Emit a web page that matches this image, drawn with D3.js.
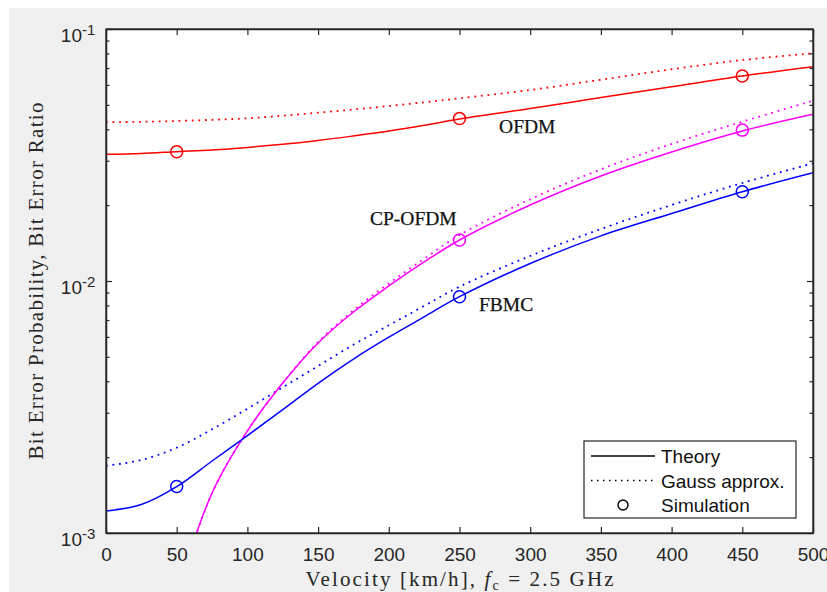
<!DOCTYPE html>
<html>
<head>
<meta charset="utf-8">
<script src="https://cdn.jsdelivr.net/npm/d3@7"></script>
<style>
  html, body { margin: 0; padding: 0; background: #ffffff; }
  svg { display: block; }
</style>
</head>
<body>
<svg id="chart" width="827" height="592"></svg>
<script>
// ---------------- data ----------------
const velocity = [0, 25, 50, 75, 100, 125, 150, 175, 200, 225, 250, 300, 350, 400, 450, 500];

const ofdmTheory   = [0.03184, 0.03208, 0.03261, 0.03312, 0.03389, 0.03489, 0.03612, 0.03765, 0.03937, 0.04148, 0.04394, 0.04834, 0.05346, 0.05902, 0.06509, 0.07087];
const ofdmGauss    = [0.04264, 0.04283, 0.04314, 0.04362, 0.04422, 0.04529, 0.04655, 0.04793, 0.04949, 0.05120, 0.05309, 0.05728, 0.06292, 0.06919, 0.07533, 0.08007];
const cpofdmTheory = [null, null, 0.000573, 0.001441, 0.002541, 0.003935, 0.005675, 0.007534, 0.009555, 0.011898, 0.014547, 0.020022, 0.026103, 0.032492, 0.039370, 0.045857];
const cpofdmGauss  = [null, null, 0.000573, 0.001441, 0.002541, 0.003935, 0.005727, 0.007651, 0.009775, 0.012251, 0.015225, 0.021090, 0.027747, 0.034973, 0.042855, 0.051930];
const fbmcTheory   = [0.001223, 0.001297, 0.001527, 0.001931, 0.002436, 0.003085, 0.003925, 0.004900, 0.005983, 0.007210, 0.008663, 0.011731, 0.015100, 0.018530, 0.022620, 0.026904];
const fbmcGauss    = [0.001849, 0.001949, 0.002181, 0.002579, 0.003113, 0.003784, 0.004600, 0.005589, 0.006671, 0.007958, 0.009493, 0.012571, 0.016082, 0.020022, 0.024481, 0.029311];

const simVelocity = [50, 250, 450];
const ofdmSim   = [0.0326, 0.0441, 0.0651];
const cpofdmSim = [null, 0.01455, 0.0397];
const fbmcSim   = [0.00153, 0.00866, 0.0226];

const schemeNames  = ["OFDM", "CP-OFDM", "FBMC"];
const schemeColors = ["#ff0000", "#ff00ff", "#0000ff"];
const labelAnchor  = [[278, 0.03856], [186.7, 0.01668], [263.8, 0.00762]];

const xTicks = [0, 50, 100, 150, 200, 250, 300, 350, 400, 450, 500];
const yMajorExponents = [-3, -2, -1];
const legendLabels = ["Theory", "Gauss approx.", "Simulation"];

// ---------------- layout ----------------
const svg = d3.select("#chart");
const W = 827, H = 592;
const plot = { left: 106, top: 29, right: 813, bottom: 533 };
const axisColor = "#262626";

svg.append("rect").attr("x", 9).attr("y", 8).attr("width", W - 9).attr("height", H - 8).attr("fill", "#f0f0f0");
svg.append("rect").attr("x", plot.left).attr("y", plot.top)
  .attr("width", plot.right - plot.left).attr("height", plot.bottom - plot.top).attr("fill", "#ffffff");

const x = d3.scaleLinear().domain([0, 500]).range([plot.left, plot.right]);
const y = d3.scaleLog().domain([1e-3, 1e-1]).range([plot.bottom, plot.top]);

svg.append("defs").append("clipPath").attr("id", "clip")
  .append("rect").attr("x", plot.left).attr("y", plot.top)
  .attr("width", plot.right - plot.left).attr("height", plot.bottom - plot.top);

// ---------------- curves ----------------
const g = svg.append("g").attr("clip-path", "url(#clip)");
const line = d3.line()
  .defined(d => d[1] != null)
  .x(d => x(d[0])).y(d => y(d[1]))
  .curve(d3.curveCatmullRom.alpha(0.5));

const theorySeries = [ofdmTheory, cpofdmTheory, fbmcTheory];
const gaussSeries  = [ofdmGauss, cpofdmGauss, fbmcGauss];
const simSeries    = [ofdmSim, cpofdmSim, fbmcSim];

gaussSeries.forEach((s, i) => {
  g.append("path").datum(velocity.map((v, k) => [v, s[k]]))
    .attr("d", line).attr("fill", "none").attr("stroke", schemeColors[i])
    .attr("stroke-width", 1.8).attr("stroke-dasharray", "1.8,4.8");
});
theorySeries.forEach((s, i) => {
  g.append("path").datum(velocity.map((v, k) => [v, s[k]]))
    .attr("d", line).attr("fill", "none").attr("stroke", schemeColors[i])
    .attr("stroke-width", 1.5);
});
simSeries.forEach((s, i) => {
  g.selectAll(null).data(simVelocity.map((v, k) => [v, s[k]]).filter(d => d[1] != null))
    .enter().append("circle")
    .attr("cx", d => x(d[0])).attr("cy", d => y(d[1])).attr("r", 6)
    .attr("fill", "none").attr("stroke", schemeColors[i]).attr("stroke-width", 1.5);
});

// ---------------- labels ----------------
schemeNames.forEach((n, i) => {
  svg.append("text").attr("x", x(labelAnchor[i][0])).attr("y", y(labelAnchor[i][1]))
    .attr("font-family", "Liberation Serif").attr("font-size", 19.5)
    .attr("stroke", "#111").attr("stroke-width", 0.25)
    .attr("fill", "#111").text(n);
});

// ---------------- axes ----------------
const fontSans = "Liberation Sans";
svg.append("g").attr("transform", `translate(0,${plot.bottom})`)
  .call(d3.axisBottom(x).tickValues(xTicks).tickSizeInner(-6).tickSizeOuter(0).tickPadding(15).tickFormat(d3.format("d")));
svg.append("g").attr("transform", `translate(0,${plot.top})`)
  .call(d3.axisTop(x).tickValues(xTicks).tickSizeInner(-6).tickSizeOuter(0).tickFormat(""));

const minorVals = [];
yMajorExponents.slice(0, -1).forEach(e => { for (let m = 2; m <= 9; m++) minorVals.push(m * Math.pow(10, e)); });
const majorVals = yMajorExponents.map(e => Math.pow(10, e));

const yl = svg.append("g").attr("transform", `translate(${plot.left},0)`)
  .call(d3.axisLeft(y).tickValues(majorVals).tickSizeInner(-6).tickSizeOuter(0).tickPadding(9).tickFormat(""));
svg.append("g").attr("transform", `translate(${plot.left},0)`)
  .call(d3.axisLeft(y).tickValues(minorVals).tickSizeInner(-3.5).tickSizeOuter(0).tickFormat(""));
svg.append("g").attr("transform", `translate(${plot.right},0)`)
  .call(d3.axisRight(y).tickValues(majorVals).tickSizeInner(-6).tickSizeOuter(0).tickFormat(""));
svg.append("g").attr("transform", `translate(${plot.right},0)`)
  .call(d3.axisRight(y).tickValues(minorVals).tickSizeInner(-3.5).tickSizeOuter(0).tickFormat(""));

svg.selectAll(".domain").attr("stroke", axisColor).attr("stroke-width", 1.3);
svg.selectAll(".tick line").attr("stroke", axisColor).attr("stroke-width", 1.2);
svg.selectAll(".tick text").attr("font-family", fontSans).attr("font-size", 19).attr("fill", axisColor);

// y major labels as 10^e
yl.selectAll(".tick").each(function(d, i) {
  const t = d3.select(this).select("text");
  t.attr("x", -24).attr("dy", null).attr("y", 12).attr("text-anchor", "end")
   .attr("font-family", fontSans).attr("font-size", 19).attr("fill", axisColor)
   .text("10");
  d3.select(this).append("text").attr("x", -24).attr("y", 5)
    .attr("text-anchor", "start").attr("fill", axisColor)
    .attr("font-family", fontSans).attr("font-size", 15)
    .text("-" + Math.abs(yMajorExponents[i]));
});

// plot box
svg.append("rect").attr("x", plot.left).attr("y", plot.top)
  .attr("width", plot.right - plot.left).attr("height", plot.bottom - plot.top)
  .attr("fill", "none").attr("stroke", axisColor).attr("stroke-width", 1.3);

// axis titles
const xTitle = svg.append("text").attr("x", (plot.left + plot.right) / 2).attr("y", 586)
  .attr("text-anchor", "middle").attr("font-family", "Liberation Serif").attr("font-size", 21)
  .attr("fill", axisColor).attr("textLength", 308).attr("lengthAdjust", "spacing");
xTitle.append("tspan").text("Velocity [km/h], ");
xTitle.append("tspan").attr("font-style", "italic").text("f");
xTitle.append("tspan").attr("font-size", 14).attr("dy", 4).text("c");
xTitle.append("tspan").attr("dy", -4).text(" = 2.5 GHz");

svg.append("text").attr("transform", `translate(43,${(plot.top + plot.bottom) / 2}) rotate(-90)`)
  .attr("text-anchor", "middle").attr("font-family", "Liberation Serif").attr("font-size", 21)
  .attr("fill", axisColor).attr("textLength", 357).attr("lengthAdjust", "spacing")
  .text("Bit Error Probability, Bit Error Ratio");

// ---------------- legend ----------------
const lg = svg.append("g");
lg.append("rect").attr("x", 584).attr("y", 441).attr("width", 212).attr("height", 77)
  .attr("fill", "#ffffff").attr("stroke", axisColor).attr("stroke-width", 1.2);
const rowY = [456, 480.5, 505];
lg.append("line").attr("x1", 591).attr("x2", 655).attr("y1", rowY[0]).attr("y2", rowY[0])
  .attr("stroke", "#000").attr("stroke-width", 1.4);
lg.append("line").attr("x1", 591).attr("x2", 655).attr("y1", rowY[1]).attr("y2", rowY[1])
  .attr("stroke", "#000").attr("stroke-width", 1.5).attr("stroke-dasharray", "1.5,4.5");
lg.append("circle").attr("cx", 623).attr("cy", rowY[2]).attr("r", 5)
  .attr("fill", "none").attr("stroke", "#000").attr("stroke-width", 1.4);
legendLabels.forEach((t, i) => {
  lg.append("text").attr("x", 661).attr("y", rowY[i] + 7)
    .attr("font-family", fontSans).attr("font-size", 19).attr("fill", "#111").text(t);
});
</script>
</body>
</html>
